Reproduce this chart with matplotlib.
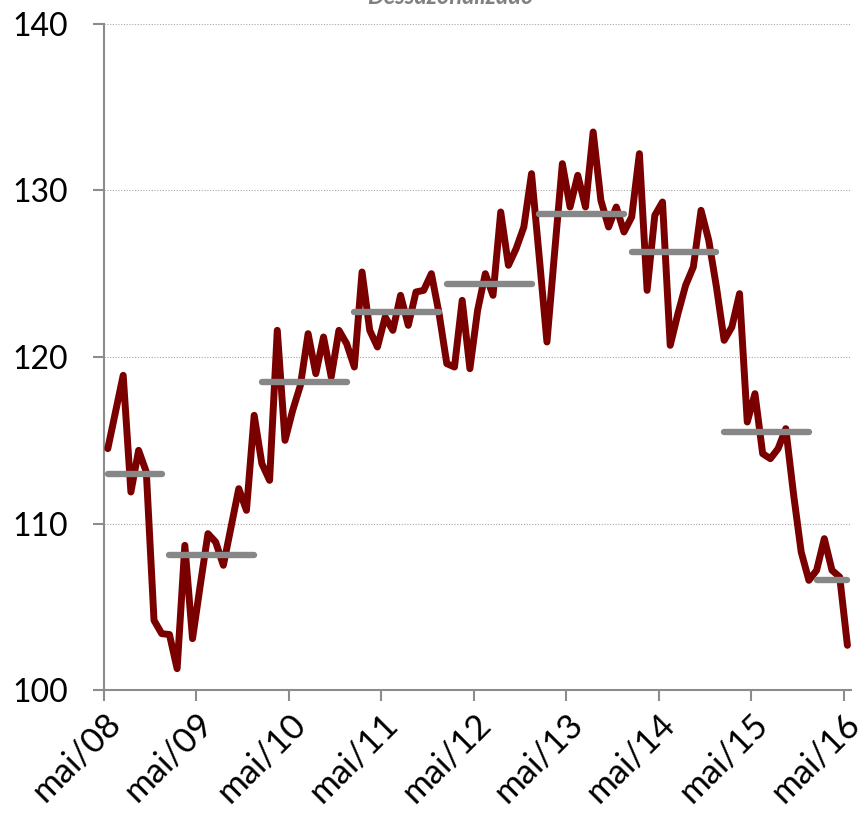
import numpy as np
import matplotlib
matplotlib.use('Agg')
import matplotlib.pyplot as plt

plt.rcParams['font.family'] = ['Lato', 'DejaVu Sans']

# Monthly index, mai/08 .. mai/16 (seasonally adjusted)
values = [
    114.5, 116.7, 118.9, 111.9, 114.4, 113.1, 104.2, 103.4,            # 2008 (mai-dez)
    103.35, 101.3, 108.7, 103.1, 106.3, 109.4, 108.9, 107.5, 109.8, 112.1, 110.8, 116.5,  # 2009
    113.6, 112.6, 121.6, 115.0, 116.8, 118.3, 121.4, 119.0, 121.2, 118.8, 121.6, 120.8,   # 2010
    119.4, 125.1, 121.6, 120.6, 122.4, 121.6, 123.7, 121.9, 123.9, 124.0, 125.0, 122.6,   # 2011
    119.6, 119.4, 123.4, 119.3, 122.8, 125.0, 123.7, 128.7, 125.5, 126.5, 127.8, 131.0,   # 2012
    126.0, 120.9, 126.3, 131.6, 129.0, 130.9, 129.0, 133.5, 129.4, 127.8, 129.0, 127.5,   # 2013
    128.4, 132.2, 124.0, 128.5, 129.3, 120.7, 122.6, 124.3, 125.4, 128.8, 127.0, 124.2,   # 2014
    121.0, 121.8, 123.8, 116.1, 117.8, 114.2, 113.9, 114.5, 115.7, 111.8, 108.3, 106.6,   # 2015
    107.2, 109.1, 107.2, 106.8, 102.7,                                   # 2016 (jan-mai)
]

# annual averages and the months each one covers (first, last month index)
year_avg = [113.0, 108.1, 118.5, 122.7, 124.4, 128.6, 126.3, 115.5, 106.6]
year_start = [0, 8, 20, 32, 44, 56, 68, 80, 92]
year_end = [7, 19, 31, 43, 55, 67, 79, 91, 96]

tick_labels = ['mai/08', 'mai/09', 'mai/10', 'mai/11', 'mai/12',
               'mai/13', 'mai/14', 'mai/15', 'mai/16']

fig = plt.figure(figsize=(8.59, 8.16), dpi=100)
ax = fig.add_axes([0.121, 0.154, 0.870, 0.817])

x = np.arange(len(values)) + 0.5
ax.plot(x, values, color='#7a0000', lw=5.0, solid_joinstyle='round',
        solid_capstyle='round', zorder=3)

for avg, s, e in zip(year_avg, year_start, year_end):
    ax.plot([s + 0.5, e + 0.5], [avg, avg], color='#878787', lw=4.6,
            solid_capstyle='round', zorder=4)

ax.set_xlim(0, len(values))
ax.set_ylim(100, 140)
ax.set_yticks([100, 110, 120, 130, 140])
ax.set_xticks(np.arange(0, len(values), 12))
ax.set_xticklabels(tick_labels, rotation=45, ha='right', va='top',
                   rotation_mode='anchor')

ax.grid(axis='y', linestyle=(0, (1, 1.5)), color='#a6a6a6', lw=0.8)
ax.set_axisbelow(True)

for side in ['top', 'right']:
    ax.spines[side].set_visible(False)
for side in ['left', 'bottom']:
    ax.spines[side].set_color('#8c8c8c')
    ax.spines[side].set_linewidth(1.5)

ax.tick_params(axis='y', length=8, width=1.5, color='#8c8c8c',
               labelsize=23, pad=18)
ax.tick_params(axis='x', length=8, width=1.5, color='#8c8c8c',
               labelsize=25, pad=4)

fig.text(0.524, 0.99, 'Dessazonalizado', ha='center', va='bottom',
         fontsize=17, fontweight='bold', fontstyle='italic', color='#808080')

plt.savefig('out.png', dpi=100)
